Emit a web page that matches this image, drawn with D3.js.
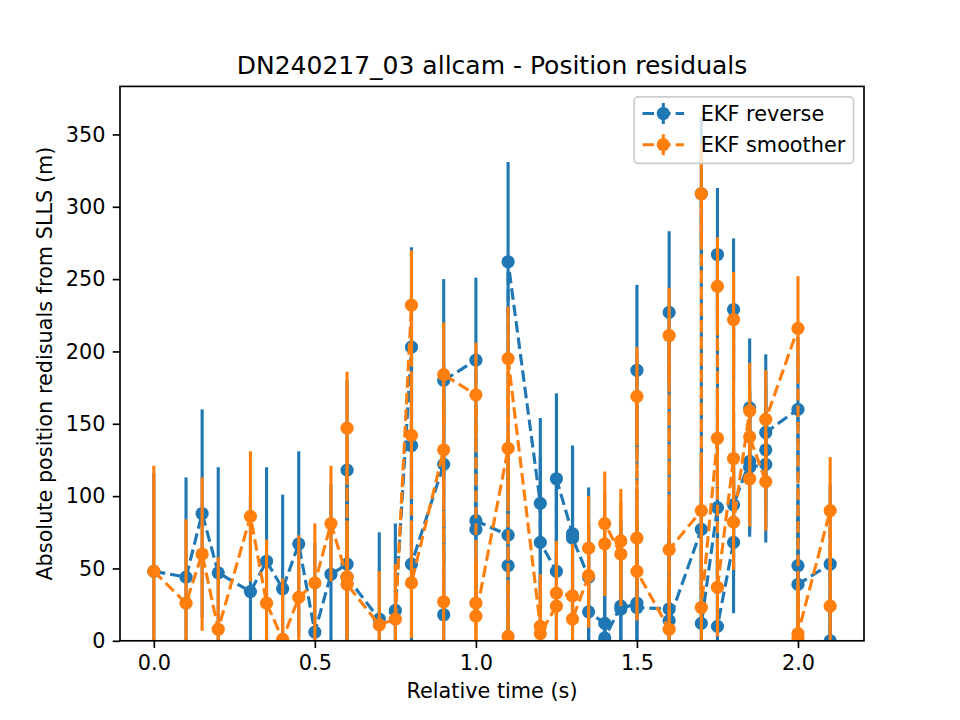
<!DOCTYPE html>
<html>
<head>
<meta charset="utf-8">
<script src="https://cdn.jsdelivr.net/npm/d3@7"></script>
<style>
body { margin: 0; background: #fff; }
text { font-family: "DejaVu Sans", sans-serif; fill: #000; }
</style>
</head>
<body>
<div id="chart"></div>
<script>
// EKF reverse (blue), points in file order
var revTime = [0.0,0.1,0.15,0.2,0.3,0.35,0.4,0.45,0.5,0.55,
  0.6,0.6,0.6,0.7,0.75,0.8,0.8,0.8,0.9,0.9,0.9,1.0,1.0,1.0,1.1,1.1,1.1,
  1.2,1.2,1.25,1.25,1.3,1.3,1.35,1.35,1.4,1.4,1.45,1.45,1.5,1.5,1.5,
  1.6,1.6,1.6,1.7,1.7,1.7,1.75,1.75,1.75,1.8,1.8,1.8,1.85,1.85,1.85,
  1.9,1.9,1.9,2.0,2.0,2.0,2.1,2.1];
var revValue = [48,44,88,47,34,55,36,67,6,46,
  53,118,44,15,21,203,135,53,122,18,180,194,77,83,73,52,262,
  95,68,48,112,74,71,44,20,12,2,24,22,26,187,23,
  22,227,14,77,309,12,92,267,10,68,229,94,124,161,120,
  122,132,144,160,52,39,53,0];
var revErr = [68,69,72,73,66,65,65,64,62,62,
  62,62,62,60,60,69,69,69,70,70,70,57,57,57,69,69,69,
  59,59,59,59,61,61,62,62,60,60,60,60,59,59,59,
  56,56,56,53,53,53,46,46,46,49,49,49,48,48,48,
  54,54,54,50,50,50,55,55];

// EKF smoother (orange)
var smoTime = [0.0,0.1,0.15,0.2,0.3,0.35,0.4,0.45,0.5,0.55,
  0.6,0.6,0.6,0.7,0.75,0.8,0.8,0.8,0.9,0.9,0.9,1.0,1.0,1.0,1.1,1.1,1.1,
  1.2,1.2,1.25,1.25,1.3,1.3,1.35,1.35,1.4,1.4,1.45,1.45,1.5,1.5,1.5,
  1.6,1.6,1.6,1.7,1.7,1.7,1.75,1.75,1.75,1.8,1.8,1.8,1.85,1.85,1.85,
  1.9,1.9,2.0,2.0,2.0,2.1,2.1];
var smoValue = [48,26,60,8,86,26,1,30,40,81,
  44,147,39,11,15,232,142,40,132,27,184,170,26,17,133,3,195,
  10,5,24,33,31,15,45,64,67,81,60,69,71,169,48,
  8,211,63,90,309,23,140,245,37,126,222,82,159,112,141,
  110,153,216,2,5,90,24];
var smoErr = [73,58,53,50,45,44,42,43,41,40,
  39,39,39,37,38,38,38,38,36,36,36,36,36,36,36,36,36,
  36,36,36,36,36,36,36,36,36,36,36,36,34,34,34,
  33,33,33,35,35,35,34,34,34,33,33,33,33,33,33,
  34,34,36,36,36,37,37];

var xTicks = [0.0, 0.5, 1.0, 1.5, 2.0];
var yTicks = [0, 50, 100, 150, 200, 250, 300, 350];
var seriesNames = ["EKF reverse", "EKF smoother"];
var seriesColors = ["#1f77b4", "#ff7f0e"];

var axL = 120, axR = 864, axT = 86.4, axB = 640.8;
var fs = 20.8;

var x = d3.scaleLinear().domain([-0.105, 2.205]).range([axL, axR]);
var y = d3.scaleLinear().domain([0, 383.2]).range([axB, axT]);

var svg = d3.select("#chart").append("svg")
  .attr("width", 960).attr("height", 720);

svg.append("defs").append("clipPath").attr("id", "plotclip")
  .append("rect")
  .attr("x", axL).attr("y", axT)
  .attr("width", axR - axL).attr("height", axB - axT);

var series = [
  { t: revTime, v: revValue, e: revErr },
  { t: smoTime, v: smoValue, e: smoErr }
];

var plot = svg.append("g").attr("clip-path", "url(#plotclip)");

series.forEach(function(s, k) {
  var pts = s.t.map(function(t, i) { return { t: t, v: s.v[i], e: s.e[i] }; });
  var g = plot.append("g");
  var col = seriesColors[k];

  g.selectAll("line.err").data(pts).enter().append("line")
    .attr("class", "err")
    .attr("x1", function(d) { return x(d.t); })
    .attr("x2", function(d) { return x(d.t); })
    .attr("y1", function(d) { return y(d.v - d.e); })
    .attr("y2", function(d) { return y(d.v + d.e); })
    .attr("stroke", col).attr("stroke-width", 3.125);

  var line = d3.line().x(function(d) { return x(d.t); }).y(function(d) { return y(d.v); });
  g.append("path").datum(pts)
    .attr("d", line)
    .attr("fill", "none")
    .attr("stroke", col)
    .attr("stroke-width", 3.125)
    .attr("stroke-dasharray", "11.56,5")
    .attr("stroke-linejoin", "round");

  g.selectAll("circle").data(pts).enter().append("circle")
    .attr("cx", function(d) { return x(d.t); })
    .attr("cy", function(d) { return y(d.v); })
    .attr("r", 6.6)
    .attr("fill", col);
});

// axes
var xAxis = d3.axisBottom(x).tickValues(xTicks).tickFormat(d3.format(".1f"))
  .tickSizeInner(7.3).tickSizeOuter(0).tickPadding(7.3);
var yAxis = d3.axisLeft(y).tickValues(yTicks)
  .tickSizeInner(7.3).tickSizeOuter(0).tickPadding(7.3);

var gx = svg.append("g").attr("transform", "translate(0," + axB + ")").call(xAxis);
var gy = svg.append("g").attr("transform", "translate(" + axL + ",0)").call(yAxis);
[gx, gy].forEach(function(g) {
  g.select(".domain").remove();
  g.selectAll("line").attr("stroke", "#000").attr("stroke-width", 1.67);
  g.selectAll("text").attr("font-size", fs).attr("font-family", "DejaVu Sans, sans-serif").attr("fill", "#000");
});

svg.append("rect")
  .attr("x", axL).attr("y", axT)
  .attr("width", axR - axL).attr("height", axB - axT)
  .attr("fill", "none").attr("stroke", "#000").attr("stroke-width", 1.67);

// labels
svg.append("text")
  .attr("x", (axL + axR) / 2).attr("y", 74)
  .attr("text-anchor", "middle").attr("font-size", 25)
  .text("DN240217_03 allcam - Position residuals");

svg.append("text")
  .attr("x", (axL + axR) / 2).attr("y", 698)
  .attr("text-anchor", "middle").attr("font-size", fs)
  .text("Relative time (s)");

svg.append("text")
  .attr("transform", "translate(52," + ((axT + axB) / 2) + ") rotate(-90)")
  .attr("text-anchor", "middle").attr("font-size", fs)
  .text("Absolute position redisuals from SLLS (m)");

// legend
var legW = 8.3 * 2 + 41.6 + 16.6 + 144.6;
var legX = axR - 10.4 - legW, legY = axT + 10.4;
var legend = svg.append("g");
legend.append("rect")
  .attr("x", legX).attr("y", legY)
  .attr("width", legW).attr("height", 66.6)
  .attr("rx", 4).attr("ry", 4)
  .attr("fill", "#fff").attr("fill-opacity", 0.8)
  .attr("stroke", "#cccccc").attr("stroke-width", 1.67);

seriesNames.forEach(function(name, k) {
  var cy = legY + 16.7 + k * 31.2;
  var hx0 = legX + 8.3, hx1 = hx0 + 41.6, hc = (hx0 + hx1) / 2;
  var col = seriesColors[k];
  legend.append("line")
    .attr("x1", hx0).attr("x2", hx1).attr("y1", cy).attr("y2", cy)
    .attr("stroke", col).attr("stroke-width", 3.125)
    .attr("stroke-dasharray", "11.56,5");
  legend.append("line")
    .attr("x1", hc).attr("x2", hc).attr("y1", cy - 10.5).attr("y2", cy + 10.5)
    .attr("stroke", col).attr("stroke-width", 3.125);
  legend.append("circle")
    .attr("cx", hc).attr("cy", cy).attr("r", 6.6).attr("fill", col);
  legend.append("text")
    .attr("x", hx1 + 16.6).attr("y", cy).attr("dy", "0.36em")
    .attr("font-size", fs)
    .text(name);
});
</script>
</body>
</html>
